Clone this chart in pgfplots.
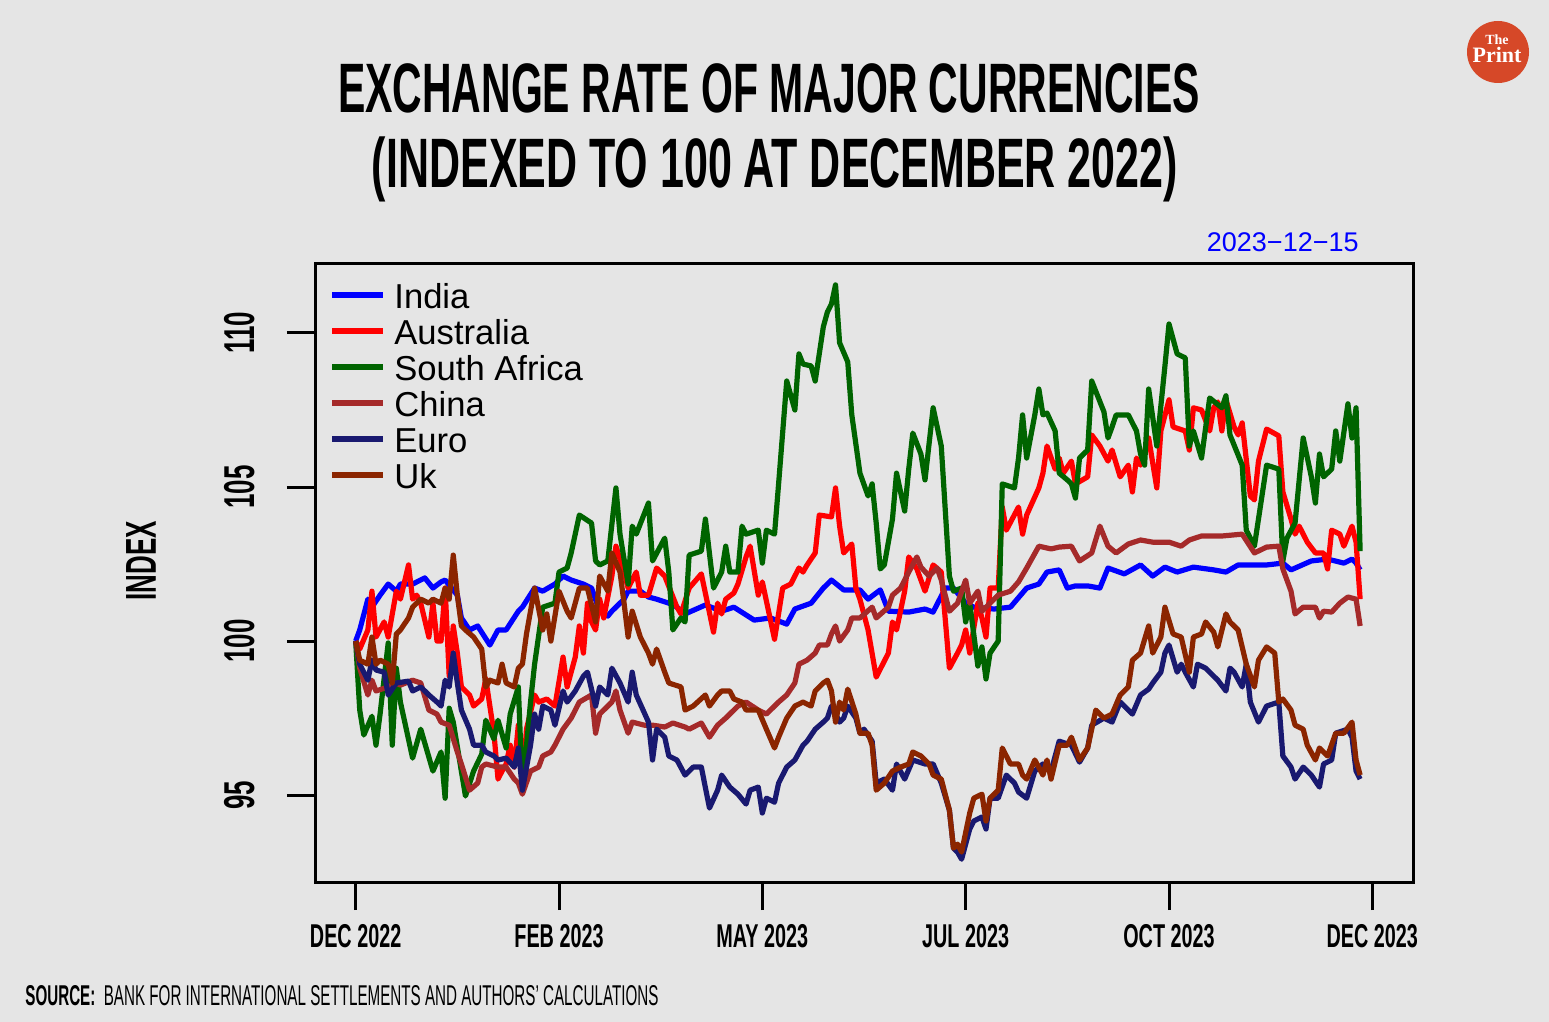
\documentclass[border=0pt]{standalone}
\usepackage{fontspec}
\setmainfont{Liberation Sans}
\newfontfamily\cond[FakeStretch=0.6]{Liberation Sans}
\newfontfamily\tcond[FakeStretch=0.585]{Liberation Sans}
\newfontfamily\seriffont{Liberation Serif}
\usepackage{pgfplots}
\pgfplotsset{compat=1.18}
\definecolor{bg}{HTML}{E5E5E5}
\definecolor{cIndia}{RGB}{0,0,255}
\definecolor{cAus}{RGB}{255,0,0}
\definecolor{cSA}{RGB}{0,100,0}
\definecolor{cChina}{RGB}{165,42,42}
\definecolor{cEuro}{RGB}{25,25,112}
\definecolor{cUk}{RGB}{139,37,0}
\definecolor{logored}{RGB}{214,72,40}
\begin{document}
\begin{tikzpicture}
\begin{scope}[x=0.5pt,y=-0.5pt]
\fill[bg] (0,0) rectangle (1549,1022);
\node[anchor=base, inner sep=0pt, font=\tcond\bfseries\fontsize{35}{36}\selectfont] at (769,113) {EXCHANGE RATE OF MAJOR CURRENCIES};
\node[anchor=base, inner sep=0pt, font=\tcond\bfseries\fontsize{35}{36}\selectfont] at (775,188) {\scalebox{1.05}[1]{(INDEXED TO 100 AT DECEMBER 2022)}};
\node[anchor=base east, inner sep=0pt, text=blue, font=\fontsize{13.5}{14}\selectfont] at (1359,251) {2023−12−15};
\node[rotate=90, inner sep=0pt, font=\cond\bfseries\fontsize{21.6}{22}\selectfont] at (141,561) {INDEX};
\node[anchor=base west, inner sep=0pt, font=\cond\fontsize{14.7}{15}\selectfont] at (25,1005) {\resizebox{316.5pt}{10pt}{\textbf{SOURCE:}\ \ BANK FOR INTERNATIONAL SETTLEMENTS AND AUTHORS’ CALCULATIONS}};
\fill[logored] (1498,52) circle (15.5pt);
\node[text=white, inner sep=0pt, anchor=base, font=\seriffont\bfseries] at (1497,63) {\shortstack{\fontsize{7}{7}\selectfont The\\[-1.5pt]\fontsize{11}{11}\selectfont Print}};
\end{scope}
\begin{axis}[
  at={(157.5pt,-441pt)}, anchor=south west,
  scale only axis, width=549pt, height=309.5pt,
  xmin=-10, xmax=260, ymin=92.18, ymax=112.27,
  axis line style={line width=1.5pt, black},
  xtick={0,50,100,150,200,250},
  xticklabels={DEC 2022, FEB 2023, MAY 2023, JUL 2023, OCT 2023, DEC 2023},
  ytick={95,100,105,110},
  yticklabels={95,100,105,110},
  tick align=outside, major tick length=14pt,
  xtick pos=left, ytick pos=left,
  tick style={line width=1.5pt, black},
  xticklabel style={font=\cond\bfseries\fontsize{16.5}{17}\selectfont, anchor=north, inner sep=0pt, yshift=-7pt},
  yticklabel style={font=\cond\bfseries\fontsize{21.6}{22}\selectfont, xshift=-16pt, rotate=90, anchor=south, inner sep=0pt},
  legend style={at={(0,1)}, anchor=north west, xshift=7pt, yshift=-7.5pt, draw=none, fill=none, inner sep=0pt,
    font=\fontsize{17.3}{18}\selectfont, nodes={inner sep=0pt, text height=15pt, text depth=3pt},
    column sep=4pt, row sep=0pt},
  legend cell align=left,
  legend image code/.code={\draw[#1, line width=3pt] (0pt,0.5pt) -- (25.5pt,0.5pt);},
  every axis plot/.append style={line width=2.6pt, line join=round, mark=none},
]
\addplot[cIndia] coordinates {(0,100.00) (1,100.36) (3,101.36) (4,101.10) (6,101.49) (8,101.85) (10,101.62) (11,101.85) (14,101.85) (17,102.05) (19,101.72) (21,101.92) (22,101.98) (25,101.49) (26,100.75) (28,100.36) (30,100.49) (33,99.87) (35,100.36) (37,100.36) (40,100.97) (41,101.10) (44,101.72) (46,101.62) (49,101.85) (51,102.11) (53,101.98) (56,101.85) (58,101.72) (60,100.97) (62,100.81) (63,100.97) (66,101.36) (67,101.62) (70,101.62) (72,101.43) (74,101.36) (77,101.23) (79,101.10) (81,100.88) (86,101.17) (90,100.97) (93,101.10) (98,100.68) (102,100.75) (106,100.55) (108,101.04) (112,101.23) (115,101.72) (117,101.98) (120,101.66) (124,101.66) (126,101.36) (129,101.66) (131,100.97) (136,100.94) (140,101.04) (142,100.94) (145,101.72) (147,101.72) (150,101.23) (152,101.10) (157,101.04) (161,101.10) (165,101.72) (168,101.85) (170,102.24) (173,102.31) (175,101.72) (177,101.79) (180,101.79) (183,101.72) (185,102.37) (189,102.18) (193,102.47) (196,102.11) (199,102.40) (202,102.24) (206,102.40) (211,102.31) (214,102.24) (217,102.47) (224,102.47) (228,102.53) (230,102.31) (235,102.60) (239,102.66) (243,102.53) (245,102.66) (246,102.53) (247,102.31)};
\addlegendentry{India}
\addplot[cAus] coordinates {(0,100) (1,99.74) (3,100.36) (4,101.62) (5,100.13) (7,100.62) (8,100.13) (10,101.62) (11,101.36) (13,102.47) (14,101.36) (15,101.49) (16,101.23) (18,100.13) (19,101.23) (20,100.00) (21,100.00) (22,101.72) (23,98.86) (24,100.49) (25,99.61) (26,98.51) (28,98.25) (29,97.89) (31,98.12) (32,98.77) (34,97.01) (35,95.52) (36,95.78) (37,96.01) (38,96.62) (39,95.91) (40,97.27) (41,95.26) (42,97.14) (44,98.25) (45,98.02) (47,98.12) (49,97.89) (51,99.48) (52,98.51) (54,99.48) (55,100.49) (56,99.61) (57,101.23) (58,100.62) (59,100.36) (60,101.36) (61,100.75) (63,102.11) (64,103.08) (66,102.24) (67,101.72) (69,102.24) (70,101.49) (72,101.49) (74,102.37) (76,102.11) (79,101.10) (80,100.88) (82,101.72) (85,102.18) (88,100.29) (89,101.23) (90,100.88) (91,101.36) (93,101.56) (94,101.85) (96,102.73) (97,103.08) (99,101.49) (100,101.92) (103,100.06) (105,101.72) (107,101.85) (109,102.37) (110,102.24) (111,102.47) (113,102.86) (114,104.09) (117,104.03) (118,104.97) (119,103.73) (120,102.86) (122,103.15) (123,101.72) (124,101.36) (126,100.36) (128,98.83) (131,99.61) (132,100.62) (133,100.36) (135,101.62) (136,102.73) (138,102.34) (140,101.62) (142,102.47) (144,102.24) (146,99.12) (148,99.61) (149,99.87) (150,100.36) (151,99.61) (153,101.23) (154,100.75) (155,100.13) (156,101.72) (158,101.72) (159,104.35) (160,103.60) (163,104.35) (164,103.47) (165,104.09) (168,104.97) (169,105.45) (170,106.33) (172,105.58) (173,105.94) (174,105.45) (176,105.84) (177,105.10) (180,105.33) (181,106.69) (183,106.33) (185,105.84) (186,106.20) (188,105.33) (190,105.71) (191,104.84) (192,105.94) (193,105.71) (195,106.59) (197,104.97) (198,106.82) (200,107.83) (201,106.95) (204,106.82) (205,106.20) (206,107.57) (208,107.50) (210,106.82) (211,107.57) (212,107.76) (213,106.82) (214,107.83) (216,106.95) (217,106.69) (218,107.08) (220,104.71) (221,104.58) (222,105.84) (224,106.88) (227,106.66) (228,104.84) (230,103.96) (231,103.47) (232,103.73) (234,103.21) (236,102.86) (238,102.86) (239,102.34) (240,103.60) (242,103.47) (243,103.08) (245,103.73) (246,103.21) (247,101.36)};
\addlegendentry{Australia}
\addplot[cSA] coordinates {(0,100) (1,97.76) (2,96.95) (4,97.56) (5,96.62) (6,97.63) (8,99.94) (9,96.62) (10,99.12) (11,98.02) (14,96.20) (16,97.14) (19,95.78) (21,96.40) (22,94.90) (23,97.82) (24,97.37) (27,94.97) (29,95.78) (31,96.33) (32,97.43) (34,96.82) (35,97.43) (37,96.53) (38,97.63) (40,98.51) (41,95.16) (43,98.02) (44,99.25) (46,101.10) (49,101.23) (50,102.24) (52,102.37) (53,102.86) (55,104.09) (58,103.83) (59,102.60) (60,102.47) (62,102.60) (64,104.97) (65,103.47) (67,101.85) (68,103.73) (69,103.47) (72,104.48) (73,102.60) (76,103.34) (77,102.24) (78,100.36) (80,100.75) (81,100.62) (82,102.79) (85,102.92) (86,103.96) (88,101.72) (90,102.24) (91,103.08) (92,102.24) (94,102.24) (95,103.73) (96,103.47) (99,103.60) (100,102.53) (101,103.60) (103,103.47) (104,105.10) (106,108.44) (108,107.50) (109,109.32) (110,108.99) (112,108.93) (113,108.44) (115,110.20) (116,110.68) (117,110.94) (118,111.56) (119,109.68) (121,109.06) (122,107.34) (124,105.45) (126,104.71) (127,105.10) (128,103.83) (129,102.34) (130,102.47) (132,103.96) (133,105.45) (135,104.22) (136,105.58) (137,106.75) (139,106.07) (140,105.23) (142,107.57) (144,106.33) (146,102.11) (147,101.62) (149,101.72) (150,100.62) (151,101.23) (153,99.19) (154,99.81) (155,98.77) (156,99.61) (158,100.00) (159,105.10) (162,104.97) (163,105.94) (164,107.34) (165,105.94) (167,107.34) (168,108.18) (169,107.34) (170,107.40) (172,106.82) (173,105.45) (175,105.23) (176,105.10) (177,104.64) (178,105.94) (180,106.20) (181,108.44) (184,107.44) (185,106.59) (186,106.95) (187,107.34) (190,107.34) (192,106.82) (193,106.07) (194,105.71) (195,108.18) (197,106.33) (199,108.93) (200,110.29) (202,109.32) (204,109.19) (205,106.33) (206,106.82) (208,105.94) (210,107.89) (213,107.57) (214,107.96) (215,106.69) (218,105.71) (219,103.60) (221,103.08) (224,105.71) (227,105.58) (228,102.60) (229,103.34) (231,103.83) (233,106.59) (235,105.33) (236,104.48) (237,106.07) (238,105.33) (240,105.58) (241,106.82) (242,105.84) (244,107.70) (245,106.59) (246,107.57) (247,102.92)};
\addlegendentry{South Africa}
\addplot[cChina] coordinates {(0,100) (1,99.12) (3,98.25) (4,98.73) (5,98.38) (8,98.51) (10,98.64) (11,98.57) (14,98.73) (16,98.64) (18,97.76) (20,97.63) (21,97.37) (23,97.27) (25,96.40) (26,96.01) (28,95.16) (30,95.39) (31,95.91) (32,96.01) (35,95.91) (37,95.91) (39,95.52) (40,95.39) (41,95.03) (43,95.78) (45,95.91) (46,96.27) (48,96.40) (49,96.62) (51,97.14) (53,97.50) (55,98.02) (58,98.25) (59,97.01) (60,97.63) (63,98.02) (64,98.38) (65,97.76) (67,97.01) (68,97.37) (71,97.27) (73,97.27) (76,97.21) (78,97.34) (81,97.21) (82,97.14) (85,97.34) (87,96.88) (89,97.27) (91,97.50) (94,97.89) (96,98.02) (99,97.76) (101,97.63) (104,98.02) (106,98.25) (108,98.64) (109,99.25) (111,99.38) (113,99.61) (114,99.87) (116,99.87) (117,100.23) (118,100.49) (119,100.00) (121,100.36) (122,100.75) (124,100.75) (127,101.10) (128,100.75) (131,101.10) (132,101.49) (134,101.72) (136,102.24) (138,102.73) (139,102.40) (141,102.11) (143,102.37) (144,101.98) (146,100.97) (148,101.23) (150,101.98) (151,101.23) (153,101.62) (154,100.97) (156,101.23) (158,101.49) (161,101.62) (163,101.92) (165,102.37) (168,103.08) (171,102.99) (173,103.05) (176,103.08) (178,102.60) (181,102.86) (183,103.73) (185,103.08) (187,102.86) (190,103.15) (193,103.28) (196,103.21) (200,103.21) (203,103.08) (205,103.28) (208,103.41) (213,103.41) (218,103.47) (221,102.86) (224,103.05) (227,103.08) (228,102.34) (230,101.62) (231,100.88) (233,101.10) (236,101.10) (237,100.75) (238,100.97) (240,100.94) (242,101.23) (244,101.43) (246,101.36) (247,100.49)};
\addlegendentry{China}
\addplot[cEuro] coordinates {(0,100) (1,99.25) (3,98.73) (4,99.38) (5,99.06) (7,98.99) (8,98.25) (10,98.64) (13,98.70) (14,98.38) (16,98.51) (18,98.25) (20,98.02) (21,97.89) (22,98.73) (23,98.51) (24,99.61) (25,98.64) (26,97.76) (28,97.14) (29,96.62) (31,96.62) (32,96.40) (34,96.27) (35,96.14) (37,96.20) (39,95.91) (40,96.53) (41,95.16) (43,96.62) (44,97.63) (45,97.14) (46,97.89) (48,97.76) (49,97.27) (51,98.38) (52,98.02) (54,98.38) (56,98.86) (57,98.99) (59,97.89) (60,98.51) (62,98.25) (63,99.12) (65,98.64) (67,98.02) (68,98.99) (69,98.25) (72,97.37) (73,96.14) (74,97.14) (76,96.88) (77,96.27) (79,96.14) (81,95.65) (83,95.91) (85,95.91) (87,94.58) (89,95.16) (90,95.65) (92,95.26) (94,95.03) (96,94.71) (97,95.16) (99,95.26) (100,94.42) (101,94.90) (103,94.77) (104,95.39) (106,95.91) (108,96.14) (110,96.62) (111,96.75) (113,97.14) (115,97.37) (116,97.50) (117,97.89) (119,97.37) (120,97.50) (121,97.89) (123,97.50) (124,97.01) (125,97.14) (127,96.75) (128,95.39) (130,95.52) (132,95.16) (133,96.01) (135,95.52) (137,96.14) (140,96.01) (142,96.01) (144,95.39) (146,94.51) (147,93.28) (148,93.15) (149,92.92) (151,93.90) (152,94.16) (154,94.29) (155,93.90) (156,94.90) (158,94.90) (160,95.65) (162,95.39) (163,95.10) (165,94.90) (167,95.78) (169,96.01) (171,95.78) (173,96.75) (176,96.62) (178,96.07) (180,96.53) (181,97.27) (184,97.50) (186,97.37) (188,98.02) (191,97.63) (193,98.25) (195,98.44) (196,98.64) (198,98.99) (199,99.61) (200,99.87) (202,98.99) (203,99.25) (204,98.99) (206,98.51) (207,99.25) (209,99.12) (211,98.86) (212,98.73) (214,98.38) (215,99.12) (216,98.99) (218,98.51) (219,99.25) (220,98.02) (222,97.37) (224,97.89) (227,98.02) (228,96.27) (230,95.91) (231,95.52) (233,95.91) (235,95.65) (237,95.26) (238,96.01) (240,96.14) (241,97.01) (244,97.14) (245,96.88) (246,95.78) (247,95.52)};
\addlegendentry{Euro}
\addplot[cUk] coordinates {(0,100) (1,99.38) (3,99.25) (4,100.13) (5,99.25) (6,99.38) (8,99.25) (9,98.64) (10,100.23) (11,100.36) (13,100.75) (14,101.10) (16,101.36) (18,101.23) (19,101.36) (21,101.23) (22,101.72) (23,101.36) (24,102.79) (25,101.49) (26,100.49) (27,100.36) (29,100.13) (31,99.74) (32,98.51) (33,98.73) (35,98.64) (36,99.25) (37,98.64) (39,98.51) (40,99.12) (41,99.25) (42,100.23) (44,101.72) (46,100.36) (47,100.88) (48,100.00) (50,101.62) (52,100.97) (53,100.75) (55,101.72) (57,101.72) (59,100.62) (60,102.11) (62,101.62) (63,102.86) (65,102.24) (66,101.23) (67,100.13) (68,100.97) (70,100.13) (72,99.61) (73,99.25) (74,99.74) (76,98.99) (77,98.64) (80,98.51) (81,97.76) (83,97.89) (86,98.25) (87,97.89) (89,98.25) (90,98.38) (92,98.38) (93,98.12) (95,98.02) (96,97.76) (99,97.76) (101,97.14) (103,96.53) (104,96.88) (106,97.50) (108,97.89) (110,98.02) (112,97.89) (113,98.38) (115,98.64) (116,98.73) (117,98.38) (118,97.37) (119,98.02) (120,97.76) (121,98.44) (123,97.63) (124,97.01) (126,97.01) (127,96.62) (128,95.16) (130,95.39) (132,95.78) (134,95.91) (136,96.01) (137,96.40) (139,96.27) (141,96.01) (142,95.65) (144,95.52) (146,94.51) (147,93.28) (148,93.41) (149,93.15) (151,94.42) (152,94.90) (154,95.03) (155,94.16) (156,94.90) (158,95.16) (159,96.53) (161,96.01) (163,96.01) (164,95.65) (165,95.52) (167,96.14) (169,95.65) (170,96.14) (171,95.52) (173,96.62) (175,96.62) (176,96.88) (178,96.14) (180,96.53) (182,97.76) (184,97.50) (186,97.63) (188,98.25) (190,98.51) (191,99.38) (193,99.61) (195,100.49) (196,99.61) (198,100.13) (199,101.10) (201,100.23) (203,100.13) (205,98.99) (206,100.13) (208,100.23) (209,100.62) (211,100.29) (212,99.81) (214,100.88) (215,100.62) (217,100.36) (219,99.25) (221,98.51) (222,99.38) (224,99.81) (226,99.61) (227,98.02) (228,98.12) (230,97.76) (231,97.27) (233,97.14) (234,96.62) (236,96.14) (237,96.53) (239,96.27) (241,97.01) (243,97.01) (245,97.37) (246,96.14) (247,95.65)};
\addlegendentry{Uk}
\end{axis}
\end{tikzpicture}
\end{document}
